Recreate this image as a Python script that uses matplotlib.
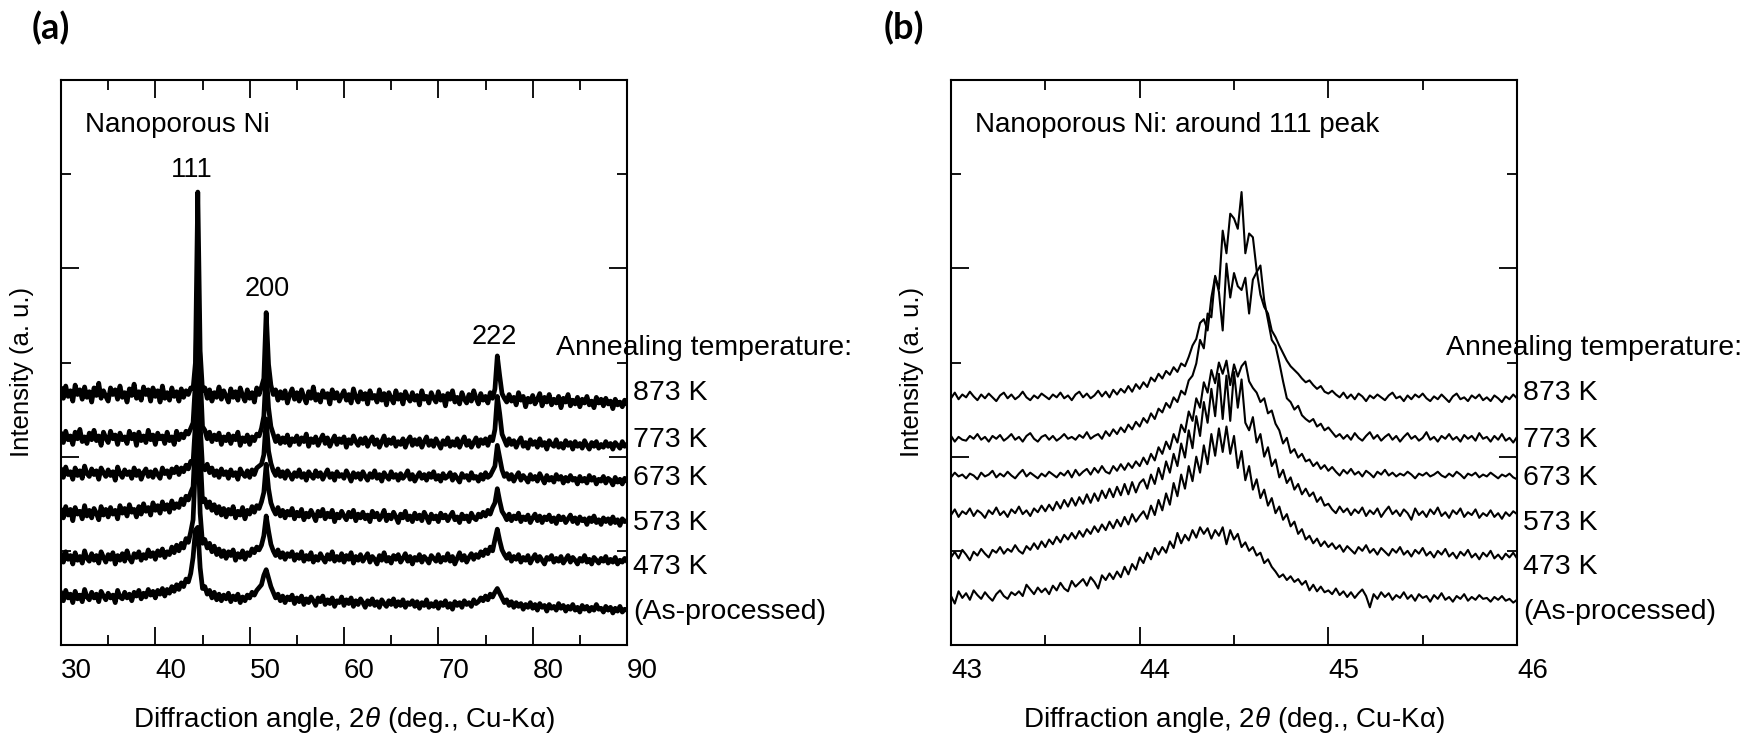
import numpy as np
import matplotlib
matplotlib.use('Agg')
import matplotlib.pyplot as plt
import matplotlib.transforms as mtransforms
from matplotlib.ticker import MultipleLocator, NullFormatter

plt.rcParams['font.family'] = ['Liberation Sans', 'DejaVu Sans']
plt.rcParams['mathtext.fontset'] = 'custom'
plt.rcParams['mathtext.rm'] = 'Liberation Sans'
plt.rcParams['mathtext.it'] = 'Liberation Sans:italic'

# labels of the six stacked patterns, top to bottom
temps = ['873 K', '773 K', '673 K', '573 K', '473 K', '(As-processed)']
label_y = [268, 218, 177, 130, 83, 35]   # intensity level (a.u.) where each label sits

# panel (a): 30-90 deg, step 0.25 deg, intensity (a.u., frame = 0..600)
a_873 = [272, 262, 275, 264, 270, 259, 276, 266, 271, 261,
         274, 263, 269, 258, 273, 265, 278, 262, 270, 264,
         259, 273, 266, 271, 261, 275, 263, 268, 258, 272,
         265, 277, 262, 269, 260, 274, 266, 271, 259, 273,
         264, 270, 258, 275, 262, 268, 260, 273, 264, 269,
         259, 272, 263, 270, 266, 273, 272, 300, 481, 312,
         270, 273, 262, 271, 259, 268, 263, 274, 261, 270,
         264, 258, 272, 263, 269, 260, 273, 265, 259, 271,
         262, 268, 258, 273, 266, 274, 283, 353, 298, 276,
         266, 271, 260, 269, 262, 270, 257, 266, 272, 261,
         268, 259, 271, 263, 257, 269, 262, 274, 260, 266,
         258, 270, 263, 267, 256, 271, 262, 268, 259, 265,
         270, 260, 266, 257, 272, 263, 258, 269, 261, 267,
         256, 270, 262, 265, 258, 271, 260, 267, 255, 268,
         262, 257, 270, 261, 266, 256, 269, 263, 259, 268,
         260, 265, 255, 270, 261, 264, 257, 268, 262, 258,
         269, 260, 265, 254, 267, 261, 270, 258, 263, 256,
         268, 261, 257, 266, 259, 270, 262, 256, 267, 260,
         264, 257, 268, 262, 272, 307, 286, 267, 262, 258,
         266, 259, 263, 255, 268, 260, 264, 253, 262, 258,
         265, 256, 261, 267, 254, 263, 258, 266, 255, 261,
         257, 264, 252, 262, 258, 266, 254, 260, 256, 263,
         253, 261, 257, 264, 255, 259, 252, 263, 257, 261,
         254, 262, 256, 259, 251, 261, 255, 258, 253, 260, 256]
a_773 = [224, 215, 227, 218, 222, 213, 226, 219, 229, 216,
         221, 214, 225, 218, 228, 217, 222, 212, 226, 220,
         215, 227, 219, 223, 213, 225, 218, 221, 214, 227,
         219, 224, 212, 226, 217, 222, 215, 228, 218, 223,
         213, 225, 219, 222, 214, 226, 217, 221, 213, 227,
         218, 224, 220, 227, 224, 230, 236, 280, 395, 290,
         232, 228, 219, 226, 216, 223, 218, 225, 213, 221,
         217, 224, 214, 222, 218, 226, 212, 220, 216, 223,
         213, 221, 217, 224, 222, 230, 243, 292, 252, 232,
         224, 216, 222, 214, 220, 215, 223, 212, 219, 216,
         222, 213, 220, 216, 224, 211, 219, 215, 221, 212,
         218, 223, 214, 220, 211, 217, 222, 213, 219, 215,
         221, 210, 218, 214, 222, 216, 212, 219, 214, 220,
         211, 217, 221, 213, 218, 210, 216, 222, 212, 218,
         214, 220, 211, 216, 213, 219, 210, 217, 221, 212,
         218, 213, 219, 210, 216, 221, 212, 217, 211, 219,
         214, 209, 217, 213, 220, 211, 216, 212, 219, 210,
         216, 221, 212, 217, 210, 215, 220, 211, 218, 214,
         219, 212, 221, 217, 229, 264, 246, 224, 218, 212,
         219, 213, 217, 210, 216, 220, 211, 215, 209, 218,
         213, 216, 210, 219, 212, 215, 208, 217, 213, 211,
         218, 210, 214, 209, 217, 212, 215, 208, 216, 211,
         214, 209, 217, 212, 208, 215, 211, 216, 209, 213,
         210, 216, 211, 214, 208, 215, 212, 209, 216, 211, 213]
a_673 = [186, 178, 189, 181, 184, 176, 188, 180, 185, 177,
         190, 182, 179, 187, 181, 185, 176, 188, 183, 179,
         186, 180, 184, 175, 189, 182, 178, 186, 181, 184,
         177, 188, 180, 185, 176, 183, 187, 179, 184, 178,
         186, 181, 177, 188, 182, 185, 178, 187, 183, 189,
         181, 188, 184, 191, 187, 195, 194, 236, 298, 234,
         189, 186, 192, 183, 188, 180, 185, 178, 187, 181,
         184, 177, 186, 180, 183, 176, 187, 182, 179, 185,
         178, 186, 181, 188, 190, 192, 202, 240, 206, 193,
         185, 180, 187, 179, 184, 177, 185, 181, 176, 183,
         179, 186, 178, 182, 175, 184, 180, 177, 185, 179,
         183, 176, 181, 186, 178, 182, 175, 184, 179, 181,
         177, 185, 180, 174, 183, 178, 182, 176, 184, 179,
         175, 182, 178, 185, 177, 181, 174, 183, 179, 176,
         184, 178, 181, 175, 182, 177, 180, 185, 176, 181,
         174, 179, 183, 177, 181, 175, 182, 178, 184, 176,
         180, 174, 182, 177, 179, 183, 175, 181, 177, 173,
         182, 178, 180, 175, 183, 177, 179, 174, 181, 176,
         183, 178, 180, 185, 190, 212, 199, 186, 179, 182,
         176, 181, 174, 179, 183, 175, 180, 177, 173, 181,
         176, 179, 174, 182, 177, 172, 180, 175, 178, 173,
         181, 176, 179, 172, 178, 174, 180, 175, 177, 171,
         179, 174, 177, 172, 180, 175, 178, 171, 176, 174,
         179, 172, 177, 175, 170, 178, 173, 176, 171, 177, 174]
a_573 = [143, 135, 147, 138, 144, 132, 146, 139, 142, 134,
         148, 137, 143, 135, 145, 140, 133, 147, 138, 144,
         136, 146, 139, 143, 134, 148, 140, 145, 137, 149,
         141, 144, 136, 147, 139, 150, 142, 146, 138, 151,
         143, 148, 140, 152, 144, 149, 141, 153, 145, 150,
         146, 155, 149, 158, 154, 162, 168, 220, 285, 205,
         152, 155, 146, 152, 143, 149, 140, 147, 138, 145,
         136, 144, 139, 147, 135, 142, 138, 146, 134, 143,
         139, 147, 141, 148, 145, 152, 162, 192, 166, 151,
         144, 139, 146, 137, 143, 135, 142, 138, 145, 134,
         141, 137, 144, 133, 140, 136, 143, 138, 132, 142,
         137, 144, 134, 140, 136, 143, 131, 139, 135, 142,
         137, 133, 141, 136, 143, 132, 139, 135, 141, 134,
         138, 131, 142, 136, 140, 133, 137, 143, 132, 138,
         134, 141, 136, 130, 139, 135, 142, 133, 137, 131,
         140, 134, 138, 132, 141, 136, 130, 139, 134, 137,
         131, 140, 135, 138, 132, 137, 141, 133, 136, 130,
         139, 134, 137, 131, 140, 135, 133, 139, 136, 141,
         137, 143, 139, 146, 151, 166, 153, 142, 138, 133,
         139, 132, 137, 134, 140, 131, 136, 133, 138, 130,
         135, 139, 132, 137, 130, 136, 133, 138, 131, 135,
         129, 137, 133, 136, 130, 134, 138, 131, 135, 129,
         136, 132, 134, 128, 135, 131, 137, 130, 133, 128,
         135, 131, 134, 129, 136, 130, 133, 127, 134, 131, 132]
a_473 = [96, 88, 99, 91, 95, 86, 98, 90, 94, 87,
         100, 92, 89, 97, 90, 95, 87, 99, 93, 88,
         96, 91, 98, 86, 95, 90, 97, 89, 100, 92,
         88, 97, 93, 99, 90, 96, 92, 101, 94, 98,
         91, 100, 95, 102, 93, 99, 96, 104, 98, 106,
         100, 108, 103, 113, 109, 120, 133, 192, 230, 140,
         108, 112, 103, 108, 99, 105, 96, 102, 94, 100,
         92, 99, 95, 101, 90, 97, 93, 100, 91, 98,
         95, 102, 98, 104, 101, 106, 116, 137, 121, 107,
         100, 95, 101, 93, 98, 91, 97, 94, 99, 90,
         96, 92, 99, 89, 95, 91, 98, 88, 94, 90,
         97, 92, 88, 96, 91, 99, 89, 94, 90, 97,
         88, 95, 91, 98, 87, 94, 90, 96, 89, 93,
         97, 88, 94, 91, 86, 95, 90, 98, 89, 93,
         87, 95, 91, 96, 88, 92, 97, 89, 94, 86,
         93, 90, 96, 88, 94, 91, 87, 95, 92, 89,
         96, 88, 93, 90, 97, 89, 94, 86, 92, 98,
         90, 95, 88, 93, 97, 91, 96, 93, 99, 95,
         101, 97, 104, 100, 112, 123, 111, 101, 96, 92,
         97, 89, 94, 91, 96, 88, 93, 90, 95, 87,
         92, 96, 89, 94, 90, 86, 93, 91, 95, 88,
         92, 89, 94, 87, 91, 95, 88, 93, 90, 86,
         92, 89, 95, 88, 91, 86, 93, 90, 87, 92,
         89, 94, 87, 91, 88, 93, 86, 90, 88, 92, 89]
a_as = [55, 47, 58, 50, 54, 45, 57, 49, 53, 46,
        59, 51, 48, 56, 50, 54, 46, 57, 52, 48,
        55, 50, 53, 45, 58, 51, 49, 56, 50, 54,
        47, 56, 52, 58, 49, 55, 51, 59, 53, 57,
        50, 58, 54, 60, 52, 59, 55, 62, 57, 64,
        59, 66, 62, 70, 67, 76, 93, 122, 125, 82,
        60, 62, 54, 58, 50, 56, 48, 54, 47, 53,
        49, 55, 46, 52, 48, 54, 45, 51, 47, 53,
        50, 56, 53, 58, 61, 64, 74, 80, 71, 62,
        56, 50, 54, 47, 52, 45, 51, 48, 53, 44,
        50, 46, 52, 43, 49, 45, 51, 47, 42, 50,
        46, 52, 43, 48, 44, 50, 41, 47, 45, 51,
        42, 48, 44, 50, 41, 47, 43, 49, 45, 40,
        47, 43, 49, 42, 46, 40, 48, 44, 41, 47,
        43, 49, 41, 46, 42, 48, 40, 45, 43, 47,
        41, 46, 39, 45, 42, 48, 40, 44, 41, 46,
        39, 45, 42, 47, 40, 44, 38, 46, 42, 45,
        40, 47, 43, 45, 41, 48, 44, 46, 50, 47,
        52, 48, 54, 51, 56, 60, 55, 50, 45, 48,
        42, 46, 40, 45, 41, 44, 38, 43, 40, 45,
        39, 43, 37, 44, 40, 42, 36, 43, 39, 41,
        37, 44, 39, 42, 36, 41, 38, 43, 37, 40,
        35, 42, 38, 41, 36, 40, 37, 43, 38, 39,
        35, 41, 37, 40, 34, 39, 36, 41, 35, 38, 37]

# panel (b): 43-46 deg, step 0.02 deg
b_873 = [262, 268, 261, 266, 263, 269, 264, 260, 266, 262,
         267, 263, 259, 265, 268, 262, 266, 261, 264, 269,
         263, 260, 265, 262, 267, 264, 261, 266, 263, 268,
         262, 265, 260, 266, 269, 263, 267, 262, 265, 270,
         264, 269, 263, 271, 266, 272, 268, 275, 269, 277,
         272, 279, 274, 284, 280, 288, 283, 291, 287, 295,
         290, 299, 296, 306, 318, 325, 342, 346, 334, 369,
         391, 378, 440, 416, 458, 453, 442, 481, 416, 437,
         433, 398, 372, 359, 352, 334, 327, 318, 310, 302,
         296, 292, 288, 283, 279, 281, 276, 272, 275, 269,
         267, 270, 266, 263, 268, 262, 266, 261, 267, 264,
         259, 265, 262, 266, 263, 260, 265, 268, 262, 264,
         259, 265, 261, 266, 263, 267, 262, 259, 264, 261,
         266, 262, 258, 264, 267, 261, 263, 259, 265, 262,
         266, 260, 263, 259, 265, 262, 258, 264, 261, 266,
         262]
b_773 = [222, 216, 221, 218, 217, 222, 219, 224, 218, 221,
         216, 222, 219, 223, 217, 220, 224, 218, 221, 216,
         222, 225, 219, 216, 221, 223, 218, 222, 217, 220,
         224, 219, 221, 218, 223, 220, 226, 219, 222, 224,
         219, 227, 222, 229, 224, 231, 226, 234, 229, 237,
         232, 241, 236, 246, 240, 251, 247, 257, 252, 263,
         258, 270, 266, 281, 286, 299, 324, 315, 352, 348,
         392, 375, 334, 405, 369, 395, 381, 377, 390, 352,
         388, 396, 403, 366, 345, 324, 318, 300, 280, 262,
         258, 250, 254, 244, 240, 237, 240, 232, 235, 228,
         231, 226, 221, 224, 219, 223, 218, 225, 220, 217,
         222, 226, 219, 223, 217, 221, 224, 218, 222, 216,
         221, 225, 219, 222, 217, 220, 226, 218, 221, 216,
         222, 219, 224, 218, 221, 216, 223, 219, 222, 217,
         225, 219, 221, 216, 222, 218, 224, 217, 220, 215,
         221]
b_673 = [178, 183, 179, 181, 177, 182, 180, 176, 183, 179,
         181, 185, 178, 182, 179, 184, 180, 177, 182, 186,
         179, 183, 180, 177, 182, 179, 184, 181, 178, 183,
         180, 185, 178, 186, 180, 184, 187, 181, 188, 183,
         190, 184, 182, 190, 185, 192, 186, 193, 188, 195,
         190, 199, 192, 203, 196, 210, 203, 216, 208, 224,
         215, 234, 226, 248, 238, 262, 252, 279, 268, 292,
         278, 300, 288, 302, 276, 298, 285, 296, 301, 280,
         273, 268, 258, 262, 246, 249, 235, 228, 214, 220,
         204, 208, 199, 203, 195, 197, 190, 194, 187, 191,
         185, 189, 184, 180, 186, 182, 187, 181, 184, 179,
         185, 182, 178, 184, 181, 186, 180, 183, 179, 182,
         180, 184, 181, 177, 182, 180, 183, 179, 181, 184,
         180, 178, 182, 179, 184, 181, 177, 182, 180, 183,
         178, 181, 179, 183, 180, 177, 181, 179, 182, 178,
         176]
b_573 = [138, 144, 136, 142, 139, 145, 137, 143, 140, 135,
         143, 139, 146, 138, 142, 136, 144, 140, 147, 139,
         143, 137, 145, 141, 148, 142, 149, 143, 152, 145,
         154, 147, 156, 148, 157, 150, 160, 151, 161, 153,
         164, 156, 166, 157, 168, 159, 171, 160, 173, 162,
         172, 176, 166, 181, 171, 188, 176, 195, 183, 203,
         190, 214, 199, 228, 209, 243, 222, 258, 236, 272,
         243, 288, 240, 286, 238, 290, 252, 282, 236, 228,
         242, 215, 224, 200, 210, 190, 197, 178, 186, 172,
         178, 165, 171, 160, 166, 158, 162, 152, 157, 148,
         150, 144, 140, 147, 141, 145, 138, 144, 140, 146,
         137, 143, 139, 145, 136, 142, 147, 139, 143, 137,
         144, 140, 133, 145, 138, 142, 136, 144, 139, 146,
         137, 141, 135, 143, 139, 145, 136, 141, 138, 144,
         135, 140, 137, 143, 136, 140, 134, 141, 137, 142,
         139]
b_473 = [93, 99, 92, 101, 96, 90, 99, 95, 102, 97,
         93, 101, 98, 104, 97, 102, 99, 106, 100, 97,
         105, 101, 108, 102, 110, 104, 112, 107, 115, 109,
         117, 112, 119, 113, 121, 115, 123, 118, 126, 120,
         128, 122, 131, 124, 133, 126, 136, 128, 139, 131,
         137, 142, 134, 148, 138, 154, 143, 161, 149, 172,
         158, 181, 166, 190, 174, 200, 183, 212, 192, 224,
         201, 230, 205, 232, 203, 222, 188, 206, 175, 190,
         165, 176, 156, 165, 148, 156, 140, 147, 133, 139,
         126, 131, 118, 123, 112, 116, 108, 113, 105, 110,
         104, 108, 102, 106, 99, 105, 101, 97, 104, 100,
         106, 98, 102, 96, 103, 99, 95, 102, 98, 104,
         96, 100, 94, 101, 97, 103, 95, 99, 93, 100,
         96, 102, 94, 98, 92, 99, 95, 101, 93, 97,
         91, 98, 94, 100, 92, 96, 91, 97, 93, 98,
         92]
b_as = [52, 44, 57, 50, 55, 48, 58, 53, 49, 56,
        51, 47, 54, 58, 52, 49, 56, 53, 57, 52,
        64, 59, 54, 61, 56, 60, 54, 63, 58, 66,
        60, 57, 68, 62, 66, 70, 63, 72, 67, 60,
        74, 69, 76, 70, 78, 72, 83, 75, 86, 80,
        93, 87, 98, 91, 103, 96, 104, 98, 110, 103,
        119, 108, 117, 111, 122, 114, 125, 118, 124, 113,
        122, 116, 125, 107, 122, 112, 118, 104, 109, 100,
        104, 95, 98, 87, 91, 83, 78, 72, 75, 69,
        73, 67, 70, 64, 68, 58, 64, 57, 62, 56,
        58, 54, 60, 53, 57, 51, 56, 50, 55, 59,
        52, 40, 54, 49, 56, 51, 55, 48, 53, 50,
        56, 49, 53, 47, 54, 50, 52, 46, 53, 49,
        55, 48, 51, 46, 52, 49, 54, 47, 51, 48,
        53, 49, 50, 46, 51, 48, 52, 47, 49, 45,
        48]

x_a = 30 + 0.25 * np.arange(len(a_873))
x_b = 43 + 0.02 * np.arange(len(b_873))
curves_a = [a_873, a_773, a_673, a_573, a_473, a_as]
curves_b = [b_873, b_773, b_673, b_573, b_473, b_as]

fig = plt.figure(figsize=(17.45, 7.37), dpi=100)
ax_a = fig.add_axes([0.03496, 0.12483, 0.32436, 0.76662])
ax_b = fig.add_axes([0.54499, 0.12483, 0.32436, 0.76662])

xlabel = r'Diffraction angle, 2$\theta$ (deg., Cu-K$\mathrm{\alpha}$)'


def style_axes(ax, xmin, xmax, major, minor):
    ax.set_xlim(xmin, xmax)
    ax.set_ylim(0, 600)
    ax.xaxis.set_major_locator(MultipleLocator(major))
    ax.xaxis.set_minor_locator(MultipleLocator(minor))
    ax.yaxis.set_major_locator(MultipleLocator(200))
    ax.yaxis.set_minor_locator(MultipleLocator(100))
    ax.yaxis.set_major_formatter(NullFormatter())
    ax.tick_params(which='both', direction='in', top=True, right=True,
                   width=1.3, labelsize=20, pad=9)
    ax.tick_params(which='major', length=13)
    ax.tick_params(which='minor', length=7)
    for s in ax.spines.values():
        s.set_linewidth(1.5)
    plt.setp(ax.get_xticklabels(), ha='left')
    ax.set_xlabel(xlabel, fontsize=20)
    ax.xaxis.set_label_coords(0.5, -0.133)
    ax.xaxis.label.set_va('center')
    ax.set_ylabel('Intensity (a. u.)', fontsize=18.5)
    ax.yaxis.set_label_coords(-0.069, 0.483)
    ax.yaxis.label.set_va('center')
    # curve labels just outside the right frame
    trans = mtransforms.blended_transform_factory(ax.transAxes, ax.transData)
    for lab, yy in zip(temps, label_y):
        ax.text(1.011, yy, lab, transform=trans, ha='left', va='center', fontsize=20.5)
    ax.text(0.875, 0.526, 'Annealing temperature:', transform=ax.transAxes,
            ha='left', va='center', fontsize=20.5)


for y in curves_a:
    ax_a.plot(x_a, y, color='black', lw=3.4)
style_axes(ax_a, 30, 90, 10, 5)
ax_a.text(0.042, 0.92, 'Nanoporous Ni', transform=ax_a.transAxes,
          ha='left', va='center', fontsize=20)
ax_a.text(43.9, 504, '111', ha='center', va='center', fontsize=19.5)
ax_a.text(51.9, 378, '200', ha='center', va='center', fontsize=19.5)
ax_a.text(75.9, 327, '222', ha='center', va='center', fontsize=19.5)

for y in curves_b:
    ax_b.plot(x_b, y, color='black', lw=1.5)
style_axes(ax_b, 43, 46, 1, 0.5)
ax_b.text(0.042, 0.92, 'Nanoporous Ni: around 111 peak', transform=ax_b.transAxes,
          ha='left', va='center', fontsize=20)

fig.text(51 / 1745, 1 - 28 / 737, '(a)', fontsize=26, fontweight='bold',
         ha='center', va='center', family=['Lato', 'DejaVu Sans'])
fig.text(904 / 1745, 1 - 28 / 737, '(b)', fontsize=26, fontweight='bold',
         ha='center', va='center', family=['Lato', 'DejaVu Sans'])

fig.savefig('out.png', dpi=100)
